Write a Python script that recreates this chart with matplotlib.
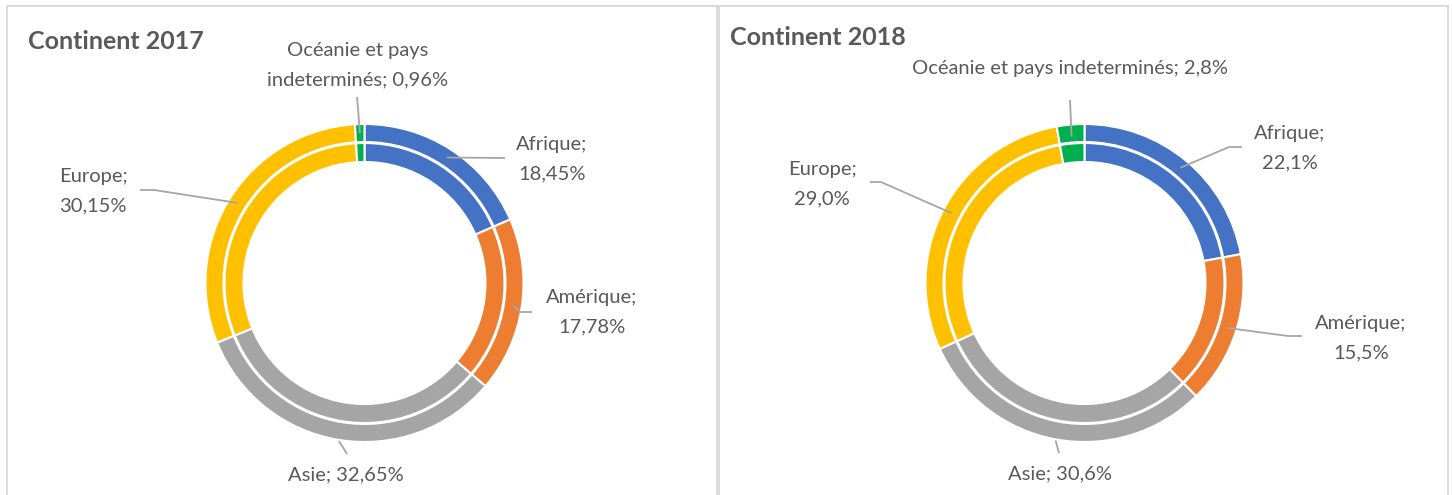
import numpy as np
import matplotlib
matplotlib.use('Agg')
import matplotlib.pyplot as plt

plt.rcParams['font.family'] = ['Lato', 'DejaVu Sans']

continents = ['Afrique', 'Amérique', 'Asie', 'Europe', 'Océanie et pays indeterminés']
share_2017 = [18.45, 17.78, 32.65, 30.15, 0.96]
share_2018 = [22.1, 15.5, 30.6, 29.0, 2.8]
colors = ['#4472C4', '#ED7D31', '#A5A5A5', '#FFC000', '#00B050']

labels_2017 = ['Afrique;\n18,45%', 'Amérique;\n17,78%', 'Asie; 32,65%',
               'Europe;\n30,15%', 'Océanie et pays\nindeterminés; 0,96%']
labels_2018 = ['Afrique;\n22,1%', 'Amérique;\n15,5%', 'Asie; 30,6%',
               'Europe;\n29,0%', 'Océanie et pays indeterminés; 2,8%']

TEXT = '#595959'
LEADER = '#A6A6A6'
BORDER = '#D9D9D9'

# layout in pixel units (y downwards)
panels = [
    dict(title='Continent 2017', shares=share_2017, labels=labels_2017,
         rect=(7, 717), center=(364.5, 283), title_xy=(28, 49),
         label_xy=[(552, 150), (592, 303), (346, 480), (93, 182), (358, 56)],
         leader=[[(505, 158)], [(520, 312), (532, 312)], [(347, 454)],
                 [(154, 190), (140, 190)], [(357, 97)]],
         anchor_r=[150, 150, 160, 150, 150]),
    dict(title='Continent 2018', shares=share_2018, labels=labels_2018,
         rect=(719, 1448), center=(1084.5, 283), title_xy=(730, 45),
         label_xy=[(1290, 139), (1361, 329), (1060, 479), (822, 175), (1070, 74)],
         leader=[[(1229, 147), (1242, 147)], [(1288, 336), (1302, 336)], [(1059, 453)],
                 [(881, 182), (870, 182)], [(1070, 100)]],
         anchor_r=[150, 150, 160, 150, 147]),
]

W, H = 1452, 495
fig = plt.figure(figsize=(W / 100, H / 100), dpi=100)
fig.patch.set_facecolor('white')

top = 6
line_gap = 29

for p in panels:
    x0, x1 = p['rect']
    ax = fig.add_axes([x0 / W, 0, (x1 - x0) / W, (H - top) / H])
    cx, cy = p['center']

    # two identical rings
    for r, w in [(159, 18), (140, 19)]:
        ax.pie(p['shares'], colors=colors, radius=r, center=(cx, cy),
               startangle=-90, counterclock=True,
               wedgeprops=dict(width=w, edgecolor='white', linewidth=1.5))

    ax.set_xlim(x0, x1)
    ax.set_ylim(H, top)
    ax.set_aspect('auto')
    ax.set_frame_on(True)
    for side in ['left', 'top', 'right']:
        ax.spines[side].set_color(BORDER)
        ax.spines[side].set_linewidth(1.3)
    ax.spines['bottom'].set_visible(False)
    ax.set_xticks([])
    ax.set_yticks([])

    ax.text(p['title_xy'][0], p['title_xy'][1], p['title'], fontsize=18,
            fontweight='bold', color=TEXT, ha='left', va='baseline')

    shares = np.array(p['shares'])
    cum = np.cumsum(shares) - shares / 2
    theta = np.deg2rad(-90 + 360 * cum / shares.sum())

    for i, lab in enumerate(p['labels']):
        r = p['anchor_r'][i]
        ax_pt = (cx + r * np.cos(theta[i]), cy + r * np.sin(theta[i]))
        pts = [ax_pt] + p['leader'][i]
        ax.plot([q[0] for q in pts], [q[1] for q in pts], color=LEADER, lw=1.3,
                solid_capstyle='butt')

        lx, ly = p['label_xy'][i]
        for k, line in enumerate(lab.split('\n')):
            ax.text(lx, ly + k * line_gap, line, fontsize=14.5, color=TEXT,
                    ha='center', va='baseline')

fig.savefig('out.png', dpi=100, facecolor='white')
